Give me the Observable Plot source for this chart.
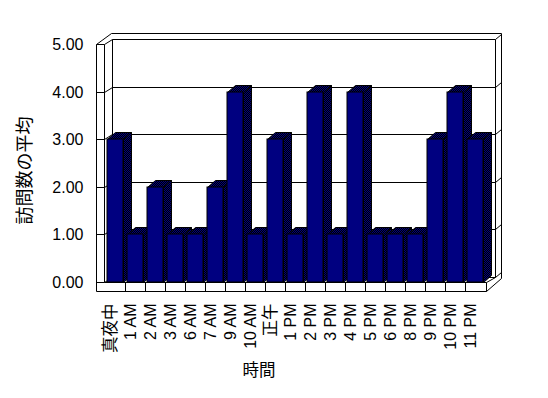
<!DOCTYPE html>
<html><head><meta charset="utf-8">
<script src="https://cdn.jsdelivr.net/npm/d3@7"></script>
<script src="https://cdn.jsdelivr.net/npm/@observablehq/plot@0.6"></script>
<style>body{margin:0;background:#fff;} #chart svg{display:block;}</style>
</head><body><div id="chart"></div>
<script>
const categories = ["真夜中","1 AM","2 AM","3 AM","6 AM","7 AM","9 AM","10 AM","正午","1 PM","2 PM","3 PM","4 PM","5 PM","6 PM","8 PM","9 PM","10 PM","11 PM"];
const values = [3,1,2,1,1,2,4,1,3,1,4,1,4,1,1,1,3,4,3];
const yTicks = [0,1,2,3,4,5];
const yTickLabels = ["0.00","1.00","2.00","3.00","4.00","5.00"];
const yTitle = "訪問数の平均";
const xTitle = "時間";

const data = categories.map((c, i) => ({category: c, value: values[i]}));
const FONT = "'Liberation Sans', Arial, 'Noto Sans CJK JP', sans-serif";
const DX = 8, DY = 7;
const R = v => Math.round(v) + 0.5;

function frame3d(index, scales) {
  const x = scales.x, y = scales.y;
  const [xL, xR] = x.range();
  const y0 = R(y(yTicks[0])), yT = R(y(yTicks[yTicks.length - 1]));
  const xo = R(xL - 8), xi = R(xL), xb = R(xL + 8), xrb = R(xR + 10), xro = R(xR + 16), xf = R(xR + 1);
  const g = d3.create("svg:g").attr("fill", "none").attr("stroke", "black").attr("stroke-width", 1);
  let p = "";
  for (const v of yTicks) {
    const yy = R(y(v));
    p += `M${xo},${yy}H${xi}L${xb},${yy - 5}H${xrb}L${xro},${yy - 10}`;
  }
  p += `M${xo},${yT}L${xb - 1},${yT - 11}H${xro}`;
  p += `M${xo},${yT}V${y0 + 9}M${xi},${yT}V${y0}M${xb},${yT - 5}V${y0 - 5}`;
  p += `M${xrb},${yT - 5}V${y0 - 5}M${xro},${yT - 11}V${y0 - 4}`;
  p += `M${xo},${y0 + 9}H${xf}M${xi},${y0}H${xf}M${xf},${y0}V${y0 + 9}`;
  p += `M${xf},${y0 + 9}L${xro},${y0 - 4}M${xf},${y0}L${xrb},${y0 - 5}`;
  const step = x.step(), pad = (step - x.bandwidth()) / 2;
  for (let k = 1; k < categories.length; k++) {
    const bx = R(x(categories[k]) - pad);
    p += `M${bx},${y0}V${y0 + 9}`;
  }
  g.append("path").attr("d", p);
  return g.node();
}

function barFaces(index, scales) {
  const x = scales.x, y = scales.y;
  const bw = x.bandwidth();
  const g = d3.create("svg:g");
  const defs = g.append("defs");
  const pat = defs.append("pattern").attr("id", "dither").attr("width", 2).attr("height", 2).attr("patternUnits", "userSpaceOnUse");
  pat.append("rect").attr("width", 2).attr("height", 2).attr("fill", "#000000");
  pat.append("rect").attr("width", 1).attr("height", 1).attr("fill", "#000080");
  pat.append("rect").attr("x", 1).attr("y", 1).attr("width", 1).attr("height", 1).attr("fill", "#000080");
  for (const d of data) {
    const x0 = R(x(d.category)), x1 = R(x(d.category) + bw);
    const yt = R(y(d.value)), yb = R(y(0));
    g.append("path")
      .attr("d", `M${x1},${yt}L${x1 + DX},${yt - DY}L${x1 + DX},${yb - DY}L${x1},${yb}Z`)
      .attr("fill", "url(#dither)").attr("stroke", "black");
    g.append("path")
      .attr("d", `M${x0},${yt}L${x0 + DX},${yt - DY}L${x1 + DX},${yt - DY}L${x1},${yt}Z`)
      .attr("fill", "url(#dither)").attr("stroke", "black");
  }
  return g.node();
}

const cjk = s => /[\u3000-\u9fff]/.test(s);

const chart = Plot.plot({
  width: 548, height: 398,
  marginLeft: 104, marginRight: 63, marginTop: 44, marginBottom: 116,
  style: {fontFamily: FONT, background: "white", color: "black"},
  x: {domain: categories, paddingInner: 0.2, paddingOuter: 0.1, round: true, axis: null},
  y: {domain: [0, 5], round: true, axis: null},
  marks: [
    frame3d,
    barFaces,
    Plot.barY(data, {x: "category", y: "value", fill: "#000080", stroke: "black", strokeWidth: 1}),
    Plot.text(yTicks, {y: d => d, text: (d, i) => yTickLabels[i], frameAnchor: "left", textAnchor: "end", dx: -21, fontSize: 16, fontFamily: FONT, fill: "black"}),
    Plot.text(categories, {x: d => d, text: d => d, frameAnchor: "bottom", rotate: -90, textAnchor: "end", dy: 21, fontSize: d => cjk(d) ? 16.5 : 16, fontFamily: FONT, fill: "black"}),
    Plot.text([yTitle], {text: d => d, frameAnchor: "left", textAnchor: "middle", dx: -79, dy: 7, rotate: -90, fontSize: 18, fontFamily: FONT, fill: "black"}),
    Plot.text([xTitle], {text: d => d, frameAnchor: "bottom", textAnchor: "middle", dx: -36, dy: 93, fontSize: 16.5, fontFamily: FONT, fill: "black"})
  ]
});
document.getElementById("chart").appendChild(chart);
</script>
</body></html>
